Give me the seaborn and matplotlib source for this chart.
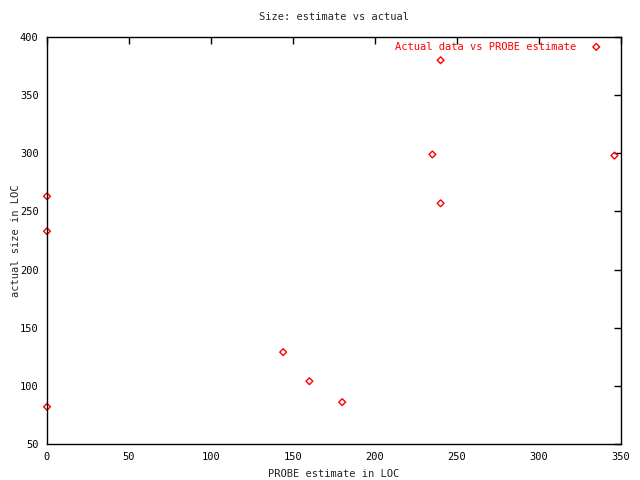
import seaborn as sns
import matplotlib.pyplot as plt
import pandas as pd

# PROBE estimate vs actual size (LOC)
estimate = [0, 0, 0, 144, 160, 180, 235, 240, 240, 346]
actual = [263, 233, 82, 129, 104, 86, 299, 257, 380, 298]
label = "Actual data vs PROBE estimate"

df = pd.DataFrame({"estimate": estimate, "actual": actual})

sns.set_style("white")
plt.rcParams['font.family'] = ['DejaVu Sans Mono', 'DejaVu Sans']
plt.rcParams['font.size'] = 7.5

fig = plt.figure(figsize=(6.4, 4.8), dpi=100)
ax = fig.add_axes([47 / 640, 1 - 444 / 480, 574 / 640, 407 / 480])

sns.scatterplot(data=df, x="estimate", y="actual", color="red",
                marker="D", s=12, linewidth=1, label=label,
                ax=ax, clip_on=False)
pts = ax.collections[0]
pts.set_facecolor("none")
pts.set_edgecolor("red")

ax.set_xlim(0, 350)
ax.set_ylim(50, 400)
ax.set_xticks(range(0, 351, 50))
ax.set_yticks(range(50, 401, 50))
ax.tick_params(direction="in", length=5, width=1, top=True, right=True,
               colors="black", labelsize=7.5, pad=6)
for s in ax.spines.values():
    s.set_color("black")
    s.set_linewidth(1)

ax.set_title("Size: estimate vs actual", fontsize=7.5, pad=12)
ax.set_xlabel("PROBE estimate in LOC", fontsize=7.5, labelpad=5)
ax.set_ylabel("actual size in LOC", fontsize=7.5, labelpad=-1)

leg = ax.legend(loc="upper right", frameon=False, markerfirst=False,
                fontsize=7.5, handletextpad=1.3, borderaxespad=1.1,
                handlelength=1.2, bbox_to_anchor=(0.995, 1.027))
for t in leg.get_texts():
    t.set_color("red")
for h in leg.legend_handles:
    h.set_facecolor("none")
    h.set_edgecolor("red")

fig.savefig("out.png", dpi=100)
